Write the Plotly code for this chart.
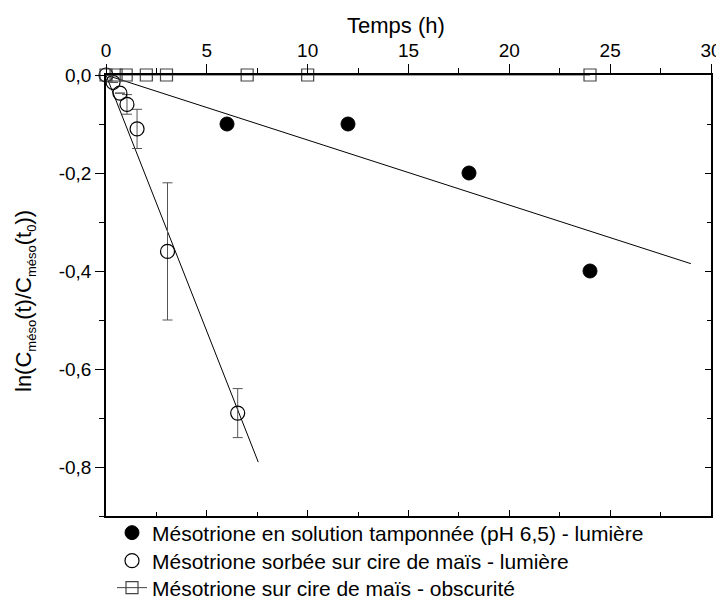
import plotly.graph_objects as go

# Data
sol_t = [6, 12, 18, 24]
sol_y = [-0.10, -0.10, -0.20, -0.40]

cire_t = [0, 0.35, 0.69, 1.04, 1.54, 3.05, 6.53]
cire_y = [0.0, -0.015, -0.037, -0.06, -0.11, -0.36, -0.69]
cire_err = [0.0, 0.0, 0.0, 0.02, 0.04, 0.14, 0.05]

obs_t = [0, 0.5, 1, 2, 3, 7, 10, 24]
obs_y = [0, 0, 0, 0, 0, 0, 0, 0]

fit_sol_t = [0, 29.0]
fit_sol_y = [0, -0.385]
fit_cire_t = [0, 7.55]
fit_cire_y = [0, -0.79]

x_ticks = [0, 5, 10, 15, 20, 25, 30]
y_ticks = [0.0, -0.2, -0.4, -0.6, -0.8]
y_ticklabels = ["0,0", "-0,2", "-0,4", "-0,6", "-0,8"]

FONT = "Arial, Liberation Sans, sans-serif"
OFF = 8                      # page body margin in the browser
W, H = 724 - OFF, 602 - OFF


def px(x):
    return (x - OFF) / W


def py(y):
    return 1 - (y - OFF) / H


fig = go.Figure()

fig.add_trace(go.Scatter(x=fit_sol_t, y=fit_sol_y, mode="lines",
                         line=dict(color="black", width=1), showlegend=False, hoverinfo="skip"))
fig.add_trace(go.Scatter(x=fit_cire_t, y=fit_cire_y, mode="lines",
                         line=dict(color="black", width=1), showlegend=False, hoverinfo="skip"))

fig.add_trace(go.Scatter(
    x=sol_t, y=sol_y, mode="markers", legend="legend",
    name="Mésotrione en solution tamponnée (pH 6,5) - lumière",
    marker=dict(symbol="circle", size=14, color="black", line=dict(color="black", width=1)),
    cliponaxis=False))

fig.add_trace(go.Scatter(
    x=cire_t, y=cire_y, mode="markers", legend="legend2",
    name="Mésotrione sorbée sur cire de maïs - lumière",
    marker=dict(symbol="circle-open", size=14, color="black", line=dict(color="black", width=1.2)),
    error_y=dict(type="data", array=cire_err, visible=True, color="#555555", thickness=1, width=5),
    cliponaxis=False))

fig.add_trace(go.Scatter(
    x=obs_t, y=obs_y, mode="lines+markers", legend="legend3",
    name="Mésotrione sur cire de maïs - obscurité",
    line=dict(color="#444444", width=1),
    marker=dict(symbol="square-open", size=12, color="#444444", line=dict(color="#444444", width=1.2)),
    cliponaxis=False))

# dummy trace so the mirrored (inside-tick) axes are drawn
fig.add_trace(go.Scatter(x=[None], y=[None], xaxis="x2", yaxis="y2",
                         showlegend=False, hoverinfo="skip"))

leg_common = dict(xanchor="left", yanchor="middle", font=dict(size=21, family=FONT),
                  bgcolor="rgba(0,0,0,0)", itemwidth=30)

axis_common = dict(showline=True, linecolor="black", linewidth=1.5,
                   tickwidth=1.2, tickcolor="black", showgrid=False, zeroline=False)

fig.update_layout(
    width=W, height=H,
    margin=dict(l=0, r=0, t=0, b=0, autoexpand=False),
    paper_bgcolor="white", plot_bgcolor="white",
    font=dict(family=FONT, size=19, color="black"),
    showlegend=True,
    legend=dict(x=px(112), y=py(533), **leg_common),
    legend2=dict(x=px(112), y=py(561), **leg_common),
    legend3=dict(x=px(112), y=py(588), **leg_common),
    xaxis=dict(
        domain=[px(106), px(711)], automargin=False,
        side="top", range=[0, 30], tickvals=x_ticks,
        ticks="outside", ticklen=9,
        minor=dict(ticks="outside", ticklen=5, dtick=2.5, tickcolor="black", tickwidth=1.2),
        tickfont=dict(size=19), **axis_common),
    yaxis=dict(
        domain=[py(516), py(75)], automargin=False,
        range=[-0.9, 0.0], tickvals=y_ticks, ticktext=y_ticklabels,
        ticks="outside", ticklen=9,
        minor=dict(ticks="outside", ticklen=5, dtick=0.1, tickcolor="black", tickwidth=1.2),
        tickfont=dict(size=19), **axis_common),
    xaxis2=dict(
        domain=[px(106), px(711)], automargin=False, overlaying="x", anchor="y",
        side="bottom", range=[0, 30], tickvals=x_ticks, showticklabels=False,
        ticks="inside", ticklen=6,
        minor=dict(ticks="inside", ticklen=4, dtick=2.5, tickcolor="black", tickwidth=1.2),
        **axis_common),
    yaxis2=dict(
        domain=[py(516), py(75)], automargin=False, overlaying="y", anchor="x",
        side="right", range=[-0.9, 0.0], tickvals=y_ticks, showticklabels=False,
        ticks="inside", ticklen=6,
        minor=dict(ticks="inside", ticklen=4, dtick=0.1, tickcolor="black", tickwidth=1.2),
        **axis_common),
    annotations=[
        dict(text="Temps (h)", x=px(396), y=py(25), xref="paper", yref="paper",
             xanchor="center", yanchor="middle", showarrow=False,
             font=dict(size=22, family=FONT)),
        dict(text="ln(C<sub><span style='font-size:13px'>méso</span></sub>(t)/"
                  "C<sub><span style='font-size:13px'>méso</span></sub>(t"
                  "<sub><span style='font-size:13px'>0</span></sub>))",
             x=px(25), y=py(301), xref="paper", yref="paper",
             xanchor="center", yanchor="middle", textangle=-90, showarrow=False,
             font=dict(size=22, family=FONT)),
    ],
)

fig.write_html("out.html")
